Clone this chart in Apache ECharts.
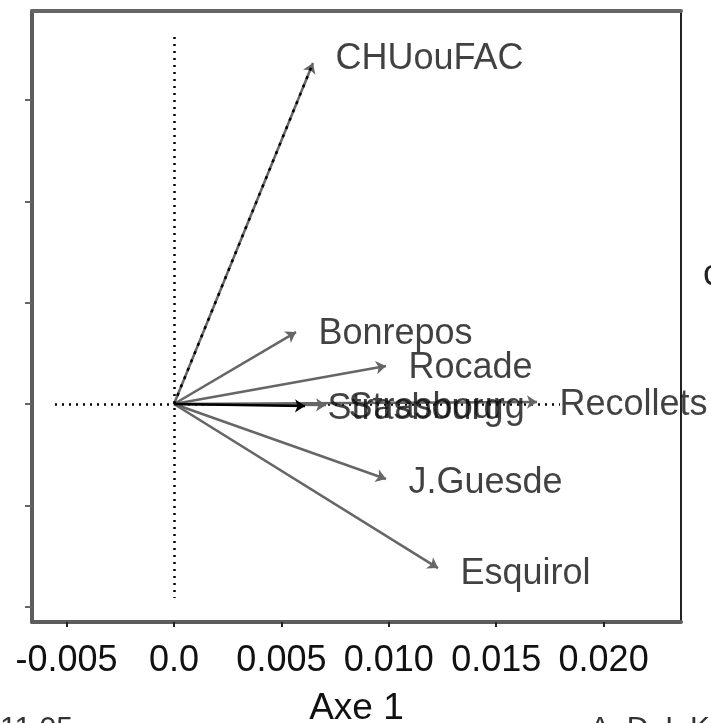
<!DOCTYPE html>
<html>
<head>
<meta charset="utf-8">
<script src="https://cdn.jsdelivr.net/npm/echarts@6/dist/echarts.min.js"></script>
<style>
html,body{margin:0;padding:0;background:#fff;}
#chart{width:711px;height:723px;}
</style>
</head>
<body>
<div id="chart"></div>
<script>
// ---- data ----
var varNames = ["CHUouFAC", "Bonrepos", "Rocade", "Strasbourg", "Strasbourg", "Recollets", "J.Guesde", "Esquirol"];
var axe1 = [0.00647, 0.00568, 0.00987, 0.00610, 0.00708, 0.01690, 0.00987, 0.01229];
var axe2 = [0.01683, 0.00355, 0.00188, -0.00010, -0.00005, 0.00010, -0.00370, -0.00810];
var xTickValues = [-0.005, 0, 0.005, 0.010, 0.015, 0.020];
var xTickLabels = ["-0.005", "0.0", "0.005", "0.010", "0.015", "0.020"];
var yTickValues = [-0.010, -0.005, 0, 0.005, 0.010, 0.015];
var xRange = [-0.006611, 0.023603];
var yRange = [-0.01076, 0.019398];
var hRef = [[-0.00554, 0], [0.01797, 0]];
var vRef = [[0, 0.018115], [0, -0.009576]];
var xTitle = "Axe 1";

// ---- chart ----
var chart = echarts.init(document.getElementById('chart'), null, {renderer: 'canvas'});
var font = '"Liberation Sans", Arial, Helvetica, sans-serif';
var gray = '#666666';
var labelScale = 1.02; // labels sit slightly beyond the arrow tip (as in R biplots)

var arrowData = [];
var dottedData = [];
var blackData = [];
for (var i = 0; i < varNames.length; i++) {
  var item = {coords: [[0, 0], [axe1[i], axe2[i]]]};
  if (i === 3) blackData.push(item);
  else arrowData.push(item);
  if (i === 0) dottedData.push({coords: [[0, 0], [axe1[i], axe2[i]]]});
}
var tipData = varNames.map(function (n, i) { return {name: n, value: [axe1[i], axe2[i] * labelScale]}; });

chart.setOption({
  animation: false,
  backgroundColor: '#ffffff',
  grid: {left: 32, right: 30, top: 11, bottom: 101, containLabel: false, outerBoundsMode: 'none'},
  xAxis: [
    {
      type: 'value', position: 'bottom', min: xRange[0], max: xRange[1],
      splitLine: {show: false},
      axisLine: {onZero: false, lineStyle: {color: '#5c5c5c', width: 4}},
      axisTick: {show: true, inside: false, length: 5, lineStyle: {color: '#222', width: 2}, customValues: xTickValues},
      axisLabel: {
        show: true, margin: 21, fontFamily: font, fontSize: 36, color: '#111',
        customValues: xTickValues,
        formatter: function (v) {
          for (var k = 0; k < xTickValues.length; k++) if (Math.abs(v - xTickValues[k]) < 1e-9) return xTickLabels[k];
          return '';
        }
      },
      name: xTitle, nameLocation: 'middle', nameGap: 68,
      nameTextStyle: {fontFamily: font, fontSize: 37, color: '#111'}
    },
    {
      type: 'value', position: 'top', min: xRange[0], max: xRange[1],
      splitLine: {show: false},
      axisLine: {onZero: false, lineStyle: {color: '#666', width: 4}},
      axisTick: {show: false}, axisLabel: {show: false}
    }
  ],
  yAxis: [
    {
      type: 'value', position: 'left', min: yRange[0], max: yRange[1],
      splitLine: {show: false},
      axisLine: {onZero: false, lineStyle: {color: '#5c5c5c', width: 4}},
      axisTick: {show: true, inside: false, length: 7, lineStyle: {color: '#666', width: 2}, customValues: yTickValues},
      axisLabel: {show: false, customValues: yTickValues}
    },
    {
      type: 'value', position: 'right', min: yRange[0], max: yRange[1],
      splitLine: {show: false},
      axisLine: {onZero: false, lineStyle: {color: '#222', width: 2}},
      axisTick: {show: false}, axisLabel: {show: false}
    }
  ],
  series: [
    {
      type: 'lines', coordinateSystem: 'cartesian2d', xAxisIndex: 0, yAxisIndex: 0, clip: false,
      data: [{coords: hRef}, {coords: vRef}],
      symbol: ['none', 'none'],
      lineStyle: {color: '#000', width: 2.5, type: [2, 5], opacity: 1},
      silent: true, z: 1
    },
    {
      type: 'lines', coordinateSystem: 'cartesian2d', xAxisIndex: 0, yAxisIndex: 0, clip: false,
      data: arrowData,
      symbol: ['none', 'arrow'], symbolSize: 10,
      lineStyle: {color: gray, width: 2.5, opacity: 1},
      silent: true, z: 2
    },
    {
      type: 'lines', coordinateSystem: 'cartesian2d', xAxisIndex: 0, yAxisIndex: 0, clip: false,
      data: blackData,
      symbol: ['none', 'arrow'], symbolSize: 10,
      lineStyle: {color: '#000', width: 2.5, opacity: 1},
      silent: true, z: 3
    },
    {
      type: 'lines', coordinateSystem: 'cartesian2d', xAxisIndex: 0, yAxisIndex: 0, clip: false,
      data: dottedData,
      symbol: ['none', 'none'],
      lineStyle: {color: '#000', width: 2.5, type: [3, 6], opacity: 1},
      silent: true, z: 3
    },
    {
      type: 'scatter', xAxisIndex: 0, yAxisIndex: 0, clip: false,
      data: tipData,
      symbolSize: 1,
      itemStyle: {color: 'rgba(0,0,0,0)'},
      label: {
        show: true, position: 'right', distance: 22, offset: [0, 3],
        formatter: function (p) { return p.name; },
        fontFamily: font, fontSize: 36, color: '#111'
      },
      silent: true, z: 4
    }
  ],
  graphic: [
    {type: 'text', left: 703, top: 257, style: {text: 'c', font: '36px ' + font, fill: '#222'}, silent: true},
    {type: 'text', left: 0, top: 714, style: {text: '11.05', font: '30px ' + font, fill: '#333'}, silent: true},
    {type: 'text', left: 590, top: 714, style: {text: 'A. D. I. K', font: '30px ' + font, fill: '#333'}, silent: true}
  ]
});
</script>
</body>
</html>
